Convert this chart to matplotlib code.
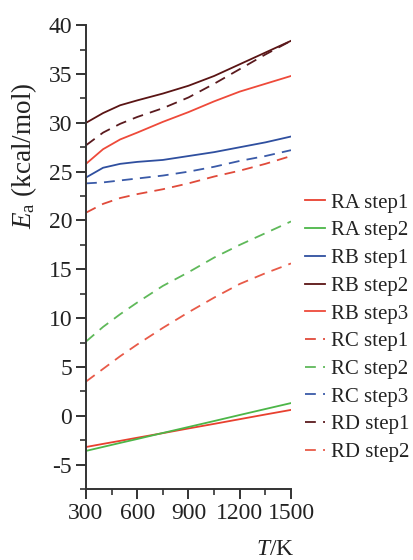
import matplotlib.pyplot as plt
from matplotlib.ticker import MultipleLocator

plt.rcParams['font.family'] = ['Liberation Serif', 'DejaVu Serif']
plt.rcParams['mathtext.fontset'] = 'custom'
plt.rcParams['mathtext.rm'] = 'Liberation Serif'
plt.rcParams['mathtext.it'] = 'Liberation Serif:italic'
plt.rcParams['axes.unicode_minus'] = False

# temperature grid (K)
T = [300, 400, 500, 600, 750, 900, 1050, 1200, 1350, 1500]

# activation energies (kcal/mol)
ra_step1 = [-3.2, -2.88, -2.57, -2.25, -1.78, -1.3, -0.83, -0.35, 0.13, 0.6]
ra_step2 = [-3.6, -3.19, -2.78, -2.38, -1.76, -1.15, -0.54, 0.08, 0.69, 1.3]
rb_step1 = [24.4, 25.4, 25.8, 26.0, 26.2, 26.6, 27.0, 27.5, 28.0, 28.6]
rb_step2 = [30.0, 31.0, 31.8, 32.3, 33.0, 33.8, 34.8, 36.0, 37.2, 38.4]
rb_step3 = [25.8, 27.3, 28.3, 29.0, 30.1, 31.1, 32.2, 33.2, 34.0, 34.8]
rc_step1 = [20.8, 21.7, 22.3, 22.7, 23.2, 23.8, 24.5, 25.1, 25.8, 26.6]
rc_step2 = [7.6, 9.1, 10.4, 11.6, 13.3, 14.7, 16.2, 17.5, 18.7, 19.9]
rc_step3 = [23.8, 23.9, 24.1, 24.3, 24.6, 25.0, 25.5, 26.1, 26.6, 27.2]
rd_step1 = [27.7, 29.0, 29.9, 30.6, 31.5, 32.6, 34.0, 35.5, 37.0, 38.4]
rd_step2 = [3.5, 4.8, 6.1, 7.3, 9.0, 10.6, 12.1, 13.5, 14.6, 15.6]

series = [
    ('RA step1', ra_step1, '#e8402f', '-'),
    ('RA step2', ra_step2, '#4cb648', '-'),
    ('RB step1', rb_step1, '#2f4f9f', '-'),
    ('RB step2', rb_step2, '#5a1414', '-'),
    ('RB step3', rb_step3, '#ee4a3a', '-'),
    ('RC step1', rc_step1, '#e04a3a', '--'),
    ('RC step2', rc_step2, '#5fb95a', '--'),
    ('RC step3', rc_step3, '#3a5aa8', '--'),
    ('RD step1', rd_step1, '#5a1a1e', '--'),
    ('RD step2', rd_step2, '#e85a48', '--'),
]

fig = plt.figure(figsize=(4.14, 5.6), dpi=100)
ax = fig.add_axes([0.2077, 0.1268, 0.4952, 0.8282])

for name, vals, col, ls in series:
    if ls == '--':
        ax.plot(T, vals, color=col, ls=ls, lw=1.3, dashes=(6, 4), label=name)
    else:
        ax.plot(T, vals, color=col, ls=ls, lw=1.3, label=name)

ax.set_xlim(300, 1500)
ax.set_ylim(-7.5, 40)
ax.set_xticks([300, 600, 900, 1200, 1500])
ax.xaxis.set_minor_locator(MultipleLocator(150))
ax.set_yticks(range(-5, 41, 5))
ax.yaxis.set_minor_locator(MultipleLocator(2.5))
ax.spines['top'].set_visible(False)
ax.spines['right'].set_visible(False)
for s in ('left', 'bottom'):
    ax.spines[s].set_linewidth(1.4)
    ax.spines[s].set_color('#333333')
ax.tick_params(which='major', direction='out', length=7, width=1.4,
               labelsize=17, colors='#333333', pad=3)
ax.tick_params(which='minor', direction='out', length=4, width=1.2, colors='#333333')
ax.tick_params(labelcolor='#222222')

fig.text(0.058, 1 - 156 / 560, r'$E_\mathrm{a}$ (kcal/mol)', fontsize=19.5,
         rotation=90, ha='center', va='center', color='#222222')
fig.text(0.665, 1 - 555 / 560, r'$T$/K', fontsize=17, ha='center', va='baseline',
         color='#222222')

leg = fig.legend(loc='upper left', bbox_to_anchor=(0.737, 0.655), frameon=False,
                 fontsize=15, handlelength=0.96, handletextpad=0.29,
                 labelspacing=0.39, borderaxespad=0, borderpad=0)
for t in leg.get_texts():
    t.set_color('#222222')

fig.savefig('out.png', dpi=100)
